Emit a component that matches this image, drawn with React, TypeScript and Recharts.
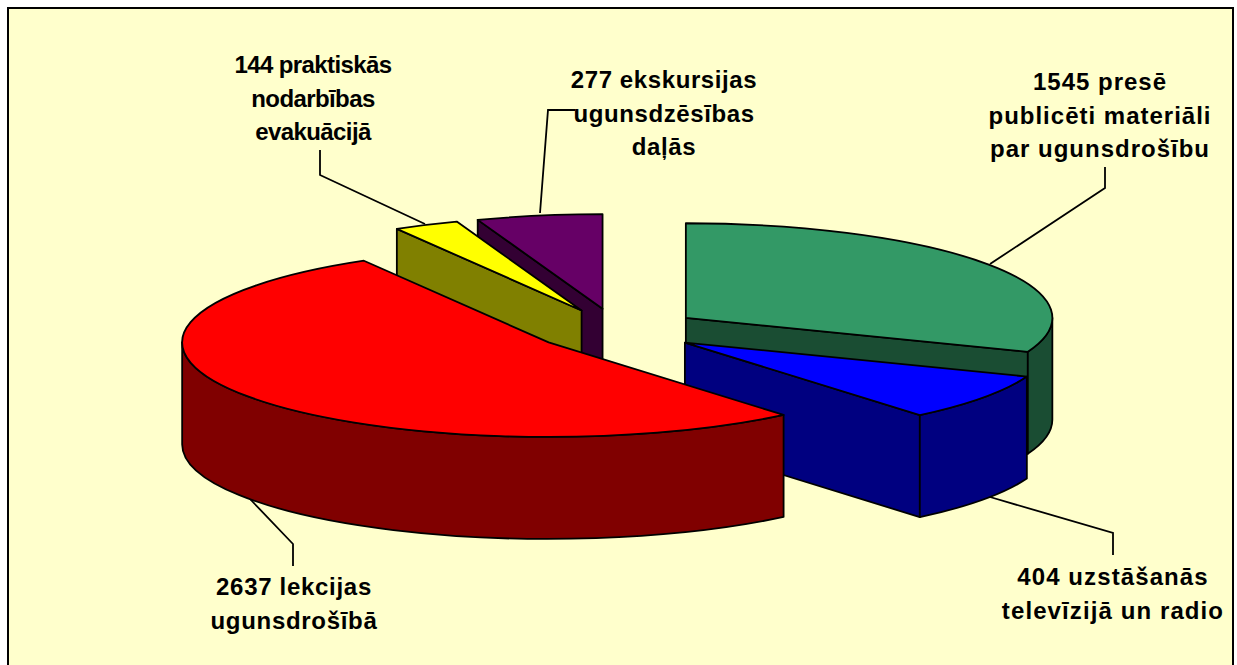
import React from 'react';
import { PieChart, Pie } from 'recharts';

const sliceNames = ['presē publicēti materiāli par ugunsdrošību', 'uzstāšanās televīzijā un radio', 'lekcijas ugunsdrošībā', 'praktiskās nodarbības evakuācijā', 'ekskursijas ugunsdzēsības daļās'];
const sliceValues = [1545, 404, 2637, 144, 277];
const topColors = ['#339966', '#0000FF', '#FF0000', '#FFFF00', '#660066'];
const wallColors = ['#1A4D33', '#000080', '#800000', '#808000', '#330033'];
// back to front, the way the slices overlap
const paintOrder = [4, 3, 0, 1, 2];

const labelLines = [
  ['1545 presē', 'publicēti materiāli', 'par ugunsdrošību'],
  ['404 uzstāšanās', 'televīzijā un radio'],
  ['2637 lekcijas', 'ugunsdrošībā'],
  ['144 praktiskās', 'nodarbības', 'evakuācijā'],
  ['277 ekskursijas', 'ugunsdzēsības', 'daļās'],
];
const labelAnchors = [
  { x: 1100, y: 90 },
  { x: 1113, y: 585 },
  { x: 294, y: 595 },
  { x: 313, y: 73 },
  { x: 664, y: 88 },
];
const labelSpacing = [1, 1.1, 0.7, -0.6, 0.6];
const leaderLines = [
  '1105,167 1105,188 990,264',
  '1113,555 1113,533 990,497',
  '293,566 293,544 250,499',
  '320,150 320,175 425,224',
  '575,110 548,110 540,213',
];

const chartData = sliceNames.map((name, i) => ({ name, value: sliceValues[i] }));

const SQUASH = 0.258;
const DEPTH = 102;
const EXPLODE = 83.5;

function Slice3D(props: any) {
  const { cx, cy, outerRadius: r, startAngle, endAngle, index, only } = props;
  if (index !== only) return <g />;
  const cw0 = 90 - startAngle;
  const cw1 = 90 - endAngle;
  const mid = ((cw0 + cw1) / 2) * (Math.PI / 180);
  const ox = cx + EXPLODE * Math.sin(mid);
  const oy = cy - EXPLODE * SQUASH * Math.cos(mid);
  const rad = (deg: number) => (deg * Math.PI) / 180;
  const pt = (deg: number, drop = 0) =>
    `${ox + r * Math.sin(rad(deg))} ${oy - r * SQUASH * Math.cos(rad(deg)) + drop}`;
  const arcTo = (from: number, to: number, drop = 0) => {
    const large = Math.abs(to - from) > 180;
    return `A ${r} ${r * SQUASH} 0 ${large ? 1 : 0} ${to > from ? 1 : 0} ${pt(to, drop)}`;
  };
  const line = { stroke: '#000', strokeWidth: 1.8, strokeLinejoin: 'round' as const };
  const face = (deg: number) =>
    `M ${ox} ${oy} L ${pt(deg)} L ${pt(deg, DEPTH)} L ${ox} ${oy + DEPTH} Z`;
  // only the cut faces turned towards the viewer get drawn
  const showStart = Math.sin(rad(cw0)) < -1e-6;
  const showEnd = Math.sin(rad(cw1)) > 1e-6;
  const w0 = Math.max(cw0, 90);
  const w1 = Math.min(cw1, 270);
  return (
    <g>
      {showStart && <path d={face(cw0)} fill={wallColors[index]} {...line} />}
      {showEnd && <path d={face(cw1)} fill={wallColors[index]} {...line} />}
      {w1 > w0 && (
        <path
          d={`M ${pt(w0)} ${arcTo(w0, w1)} L ${pt(w1, DEPTH)} ${arcTo(w1, w0, DEPTH)} Z`}
          fill={wallColors[index]}
          {...line}
        />
      )}
      <path d={`M ${ox} ${oy} L ${pt(cw0)} ${arcTo(cw0, cw1)} Z`} fill={topColors[index]} {...line} />
    </g>
  );
}

export default function App() {
  return (
    <div style={{ position: 'fixed', left: 0, top: 0, width: 1237, height: 665, overflow: 'hidden', background: '#fff' }}>
      <div
        style={{
          position: 'absolute',
          left: 7,
          top: 7,
          width: 1223,
          height: 660,
          background: '#FFFFCC',
          border: '2px solid #000',
        }}
      />
      <div style={{ position: 'absolute', left: 0, top: 0 }}>
        <PieChart width={1237} height={665} margin={{ top: 0, right: 0, bottom: 0, left: 0 }}>
          {paintOrder.map((only) => (
            <Pie
              key={only}
              data={chartData}
              dataKey="value"
              nameKey="name"
              cx={617}
              cy={330}
              outerRadius={366.5}
              startAngle={90}
              endAngle={-270}
              paddingAngle={0}
              isAnimationActive={false}
              shape={(p: any) => <Slice3D {...p} only={only} />}
              stroke="none"
            />
          ))}
          {leaderLines.map((points) => (
            <polyline key={points} points={points} fill="none" stroke="#000" strokeWidth={1.8} />
          ))}
          {labelLines.map((lines, i) => (
            <text
              key={lines[0]}
              textAnchor="middle"
              fontFamily="Liberation Sans, Arial, sans-serif"
              fontWeight="bold"
              fontSize={24}
              letterSpacing={labelSpacing[i]}
              fill="#000"
            >
              {lines.map((t, j) => (
                <tspan key={t} x={labelAnchors[i].x} y={labelAnchors[i].y + j * 33.5}>
                  {t}
                </tspan>
              ))}
            </text>
          ))}
        </PieChart>
      </div>
    </div>
  );
}
